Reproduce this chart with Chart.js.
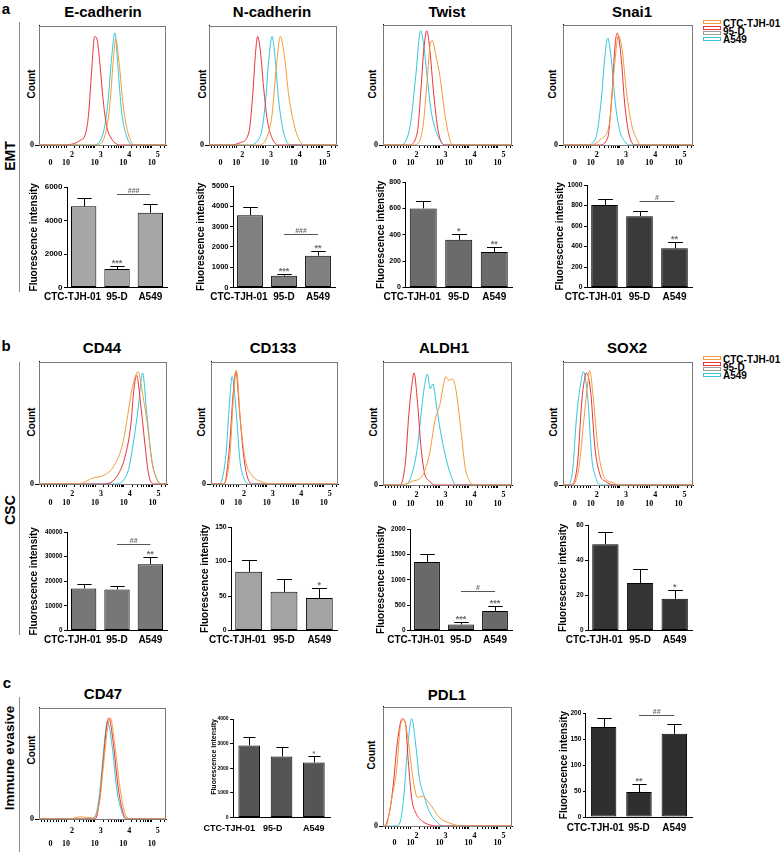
<!DOCTYPE html>
<html>
<head>
<meta charset="utf-8">
<script src="https://cdn.jsdelivr.net/npm/chart.js@4.4.0/dist/chart.umd.min.js"></script>
<style>
  body { margin: 0; background: #fff; font-family: "Liberation Sans", Arial, sans-serif; }
  #fig { position: relative; width: 784px; height: 852px; overflow: hidden; background: #fff; }
  canvas { position: absolute; }
  .t { position: absolute; transform: translate(-50%, -50%); font-weight: bold; white-space: nowrap; line-height: 1; color: #000; }
  .rot { transform: translate(-50%, -50%) rotate(-90deg); }
  .vl { position: absolute; left: 19px; width: 1px; background: #8c8c8c; }
  .leg { position: absolute; left: 703px; width: 80px; height: 24px; }
  .sw { position: absolute; left: 0; width: 16px; height: 2px; border: 1.5px solid; background: #fff; }
  .lt { position: absolute; left: 20px; top: 0; font-weight: bold; font-size: 10px; line-height: 8px; }
</style>
</head>
<body>
<div id="fig">
  <div class="t" style="left:6px;top:8px;font-size:15px">a</div>
  <div class="t" style="left:6px;top:345px;font-size:15px">b</div>
  <div class="t" style="left:7px;top:682px;font-size:15px">c</div>

  <div class="vl" style="top:22px;height:270px"></div>
  <div class="vl" style="top:362px;height:273px"></div>
  <div class="vl" style="top:697px;height:155px"></div>
  <div class="t rot" style="left:10px;top:156px;font-size:14px">EMT</div>
  <div class="t rot" style="left:10px;top:510px;font-size:14px">CSC</div>
  <div class="t rot" style="left:10px;top:758px;font-size:13.5px">Immune evasive</div>

  <div class="t" style="left:103px;top:11px;font-size:15px">E-cadherin</div>
  <div class="t" style="left:272px;top:11px;font-size:15px">N-cadherin</div>
  <div class="t" style="left:447px;top:11px;font-size:15px">Twist</div>
  <div class="t" style="left:632px;top:11px;font-size:15px">Snai1</div>
  <div class="t" style="left:102px;top:347px;font-size:15px">CD44</div>
  <div class="t" style="left:273px;top:347px;font-size:15px">CD133</div>
  <div class="t" style="left:444px;top:347px;font-size:15px">ALDH1</div>
  <div class="t" style="left:627px;top:347px;font-size:15px">SOX2</div>
  <div class="t" style="left:103px;top:693px;font-size:15px">CD47</div>
  <div class="t" style="left:447px;top:694px;font-size:15px">PDL1</div>

  <div class="t rot" style="left:32px;top:84px;font-size:10px">Count</div>
  <div class="t rot" style="left:203px;top:84px;font-size:10px">Count</div>
  <div class="t rot" style="left:373px;top:84px;font-size:10px">Count</div>
  <div class="t rot" style="left:553px;top:84px;font-size:10px">Count</div>
  <div class="t rot" style="left:32px;top:422px;font-size:10px">Count</div>
  <div class="t rot" style="left:202px;top:422px;font-size:10px">Count</div>
  <div class="t rot" style="left:374px;top:422px;font-size:10px">Count</div>
  <div class="t rot" style="left:554px;top:422px;font-size:10px">Count</div>
  <div class="t rot" style="left:32px;top:750px;font-size:10px">Count</div>
  <div class="t rot" style="left:372px;top:755px;font-size:10px">Count</div>

  <div class="leg" style="top:20px">
    <div class="sw" style="top:0;border-color:#f29b3b"></div>
    <div class="sw" style="top:5.5px;border-color:#e8323c"></div>
    <div class="sw" style="top:11px;border-color:#9a9a9a"></div>
    <div class="sw" style="top:16.5px;border-color:#33c5dd"></div>
    <div class="lt">CTC-TJH-01<br>95-D<br>A549</div>
  </div>
  <div class="leg" style="top:356px">
    <div class="sw" style="top:0;border-color:#f29b3b"></div>
    <div class="sw" style="top:5.5px;border-color:#e8323c"></div>
    <div class="sw" style="top:11px;border-color:#9a9a9a"></div>
    <div class="sw" style="top:16.5px;border-color:#33c5dd"></div>
    <div class="lt">CTC-TJH-01<br>95-D<br>A549</div>
  </div>
</div>

<script>
// ---- data ----
const groups = ['CTC-TJH-01', '95-D', 'A549'];
const seriesColors = ['#f29b3b', '#e8323c', '#33c5dd'];

// flow histograms: [log10 position, % of max count], order CTC-TJH-01, 95-D, A549
const ecadCTC = [[1.05,0],[3.06,0],[3.36,8],[3.53,33],[3.65,70],[3.74,89],[3.86,68],[4.0,33],[4.17,10],[4.4,0],[5.5,0]];
const ecad95D = [[1.05,0],[1.9,0],[2.25,1],[2.5,4],[2.66,8],[2.78,24],[2.9,64],[3.0,91],[3.09,88],[3.18,69],[3.3,37],[3.42,16],[3.6,5],[3.9,0],[5.5,0]];
const ecadA549 = [[1.05,0],[2.95,0],[3.3,10],[3.47,37],[3.59,72],[3.71,94],[3.82,64],[3.94,29],[4.11,8],[4.35,0],[5.5,0]];

const ncadCTC = [[1.05,0],[2.78,0],[3.07,7],[3.24,25],[3.39,65],[3.53,91],[3.67,75],[3.82,42],[4.0,18],[4.17,5],[4.37,0],[5.5,0]];
const ncad95D = [[1.05,0],[1.79,0],[2.14,2],[2.43,10],[2.58,45],[2.66,75],[2.74,91],[2.84,78],[2.95,48],[3.07,22],[3.24,6],[3.47,0],[5.5,0]];
const ncadA549 = [[1.05,0],[2.43,0],[2.84,8],[3.01,35],[3.13,72],[3.24,91],[3.36,70],[3.47,38],[3.65,10],[3.88,0],[5.5,0]];

const twistCTC = [[1.05,0],[2.12,0],[2.41,12],[2.56,50],[2.67,82],[2.75,87],[2.87,75],[3.02,56],[3.16,30],[3.3,10],[3.45,0],[5.5,0]];
const twist95D = [[1.05,0],[1.94,0],[2.23,10],[2.37,50],[2.46,80],[2.56,95],[2.67,78],[2.79,45],[2.93,15],[3.05,3],[3.22,0],[5.5,0]];
const twistA549 = [[1.05,0],[1.65,0],[1.83,3],[2.0,18],[2.17,55],[2.35,95],[2.46,82],[2.58,55],[2.7,30],[2.87,12],[3.05,3],[3.16,0],[5.5,0]];

const snaiCTC = [[1.05,0],[2.0,0],[2.35,5],[2.64,18],[2.79,60],[2.95,91],[3.07,80],[3.22,45],[3.39,18],[3.57,5],[3.72,0],[5.5,0]];
const snai95D = [[1.05,0],[2.29,0],[2.58,6],[2.72,40],[2.84,85],[2.91,93],[3.05,70],[3.16,35],[3.3,10],[3.51,0],[5.5,0]];
const snaiA549 = [[1.05,0],[1.88,0],[2.17,6],[2.35,35],[2.49,75],[2.58,89],[2.7,72],[2.84,35],[2.99,12],[3.16,3],[3.3,0],[5.5,0]];

const cd44CTC = [[1.05,0],[2.4,0],[2.94,5],[3.3,7],[3.66,15],[3.96,33],[4.14,57],[4.26,75],[4.4,88],[4.5,92],[4.62,78],[4.8,52],[4.98,18],[5.17,3],[5.3,0],[5.5,0]];
const cd4495D = [[1.05,0],[3.3,0],[3.78,7],[4.08,26],[4.26,52],[4.33,73],[4.44,89],[4.6,62],[4.74,31],[4.86,8],[5.04,0],[5.5,0]];
const cd44A549 = [[1.05,0],[3.66,0],[4.14,10],[4.31,31],[4.5,62],[4.65,91],[4.8,57],[4.98,18],[5.17,3],[5.29,0],[5.5,0]];

const cd133CTC = [[1.05,0],[1.45,0],[1.7,20],[1.84,72],[1.94,93],[2.08,52],[2.25,20],[2.49,7],[2.8,2],[3.17,0],[5.5,0]];
const cd13395D = [[1.05,0],[1.51,0],[1.7,31],[1.82,72],[1.92,92],[2.06,57],[2.18,26],[2.3,8],[2.49,0],[5.5,0]];
const cd133A549 = [[1.05,0],[1.33,0],[1.57,23],[1.7,67],[1.79,88],[1.94,57],[2.06,20],[2.18,6],[2.37,0],[5.5,0]];

const aldhCTC = [[1.05,0],[1.7,0],[2.06,3],[2.42,8],[2.66,26],[2.84,52],[3.03,67],[3.14,82],[3.22,88],[3.32,85],[3.44,86],[3.56,78],[3.74,44],[3.88,15],[4.04,3],[4.22,0],[5.5,0]];
const aldh95D = [[1.05,0],[1.64,0],[1.82,18],[1.94,57],[2.04,80],[2.12,91],[2.24,67],[2.36,31],[2.48,10],[2.66,3],[2.84,0],[5.5,0]];
const aldhA549 = [[1.05,0],[1.82,0],[2.06,10],[2.24,31],[2.36,57],[2.48,80],[2.58,90],[2.68,78],[2.77,82],[2.89,65],[3.03,44],[3.21,23],[3.39,8],[3.56,0],[5.5,0]];

const sox2CTC = [[1.05,0],[1.37,0],[1.6,15],[1.76,52],[1.91,85],[1.96,93],[2.09,70],[2.24,31],[2.45,7],[2.74,2],[2.99,0],[5.5,0]];
const sox295D = [[1.05,0],[1.31,0],[1.55,18],[1.69,67],[1.78,85],[1.85,91],[2.0,75],[2.14,31],[2.32,8],[2.5,3],[2.81,0],[5.5,0]];
const sox2A549 = [[1.05,0],[1.19,0],[1.37,10],[1.52,57],[1.64,80],[1.75,92],[1.91,67],[2.03,23],[2.17,6],[2.32,0],[5.5,0]];

const cd47CTC = [[1.05,0],[2.11,0],[2.51,2],[2.92,1],[3.17,15],[3.3,46],[3.45,81],[3.55,91],[3.71,66],[3.88,29],[4.05,6],[4.24,0],[5.5,0]];
const cd4795D = [[1.05,0],[3.02,0],[3.19,21],[3.3,52],[3.42,83],[3.5,91],[3.65,69],[3.82,29],[3.99,6],[4.14,0],[5.5,0]];
const cd47A549 = [[1.05,0],[2.96,0],[3.15,18],[3.26,46],[3.38,78],[3.45,88],[3.61,66],[3.78,26],[3.96,6],[4.09,0],[5.5,0]];

const pdl1CTC = [[1.05,0],[1.15,0],[1.35,23],[1.53,49],[1.65,84],[1.77,89],[1.94,68],[2.06,44],[2.24,24],[2.41,25],[2.59,21],[2.77,15],[3.0,7],[3.3,3],[3.53,1],[3.72,0],[5.5,0]];
const pdl195D = [[1.05,0],[1.1,0],[1.3,15],[1.41,36],[1.55,71],[1.71,90],[1.82,87],[1.92,55],[2.04,23],[2.18,11],[2.41,4],[2.65,1],[2.88,0],[5.5,0]];
const pdl1A549 = [[1.05,0],[1.5,0],[1.65,4],[1.77,25],[1.89,63],[2.04,90],[2.18,68],[2.3,41],[2.47,25],[2.65,12],[2.88,4],[3.12,0],[5.5,0]];

// fluorescence intensity bars: mean and SEM, order CTC-TJH-01, 95-D, A549
const ecadMean = [4850, 1100, 4460];   const ecadErr = [510, 200, 500];
const ncadMean = [3560, 580, 1570];    const ncadErr = [410, 80, 220];
const twistMean = [600, 362, 270];     const twistErr = [55, 45, 38];
const snaiMean = [804, 696, 382];      const snaiErr = [59, 49, 59];
const cd44Mean = [17100, 16700, 26900]; const cd44Err = [1600, 1400, 2900];
const cd133Mean = [85, 56, 47];        const cd133Err = [17, 18, 15];
const aldhMean = [1350, 120, 385];     const aldhErr = [155, 50, 90];
const sox2Mean = [49, 27, 18];         const sox2Err = [7, 8, 5];
const cd47Mean = [2930, 2480, 2240];   const cd47Err = [330, 400, 270];
const pdl1Mean = [173, 48, 160];       const pdl1Err = [17, 15, 18];

// significance marks vs CTC-TJH-01 and 95-D vs A549 bracket [from, to, value, label]
const ecadStars = ['', '***', ''];   const ecadBracket = [1, 2, 5560, '###'];
const ncadStars = ['', '***', '**']; const ncadBracket = [1, 2, 2620, '###'];
const twistStars = ['', '*', '**'];  const twistBracket = null;
const snaiStars = ['', '', '**'];    const snaiBracket = [1, 2, 843, '#'];
const cd44Stars = ['', '', '**'];    const cd44Bracket = [1, 2, 35000, '##'];
const cd133Stars = ['', '', '*'];    const cd133Bracket = null;
const aldhStars = ['', '***', '***']; const aldhBracket = [1, 2, 776, '#'];
const sox2Stars = ['', '', '*'];     const sox2Bracket = null;
const cd47Stars = ['', '', '*'];     const cd47Bracket = null;
const pdl1Stars = ['', '**', ''];    const pdl1Bracket = [1, 2, 196, '##'];

// logicle-style axis
const X_MIN = 1.05, X_MAX = 5.5;
const histMajor = [1.45, 2, 3, 4, 5];
const histMinor = [1.15, 1.25, 1.35, 1.55, 1.65, 1.75, 1.85, 1.93, 5.3, 5.45];
[2, 3, 4].forEach(d => { for (let k = 2; k <= 9; k++) histMinor.push(d + Math.log10(k)); });

Chart.defaults.font.family = '"Liberation Sans", Arial, sans-serif';

function addCanvas(x, y, w, h) {
  const c = document.createElement('canvas');
  c.width = Math.round(w);
  c.height = Math.round(h);
  c.style.left = Math.round(x) + 'px';
  c.style.top = Math.round(y) + 'px';
  document.getElementById('fig').appendChild(c);
  return c;
}

const boxPlugin = {
  id: 'box',
  beforeDatasetsDraw(chart) {
    const { ctx, chartArea: a } = chart;
    ctx.save();
    ctx.strokeStyle = '#7a7a7a';
    ctx.lineWidth = 1;
    ctx.strokeRect(Math.round(a.left) + 0.5, Math.round(a.top) + 0.5, Math.round(a.right - a.left) - 1, Math.round(a.bottom - a.top));
    ctx.restore();
  }
};

function histogram(box, curves, lab) {
  const [L, T, R, B] = box;
  const cv = addCanvas(L - 12, T - 2, R - L + 15, B - T + 30);
  const serif = { family: '"Liberation Serif", "Times New Roman", serif', weight: 'bold', size: 8 };
  new Chart(cv, {
    type: 'line',
    data: {
      datasets: curves.map((pts, i) => ({
        label: groups[i],
        data: pts.map(p => ({ x: p[0], y: p[1] })),
        borderColor: seriesColors[i],
        borderWidth: 1,
        pointRadius: 0,
        cubicInterpolationMode: 'monotone',
        fill: false
      }))
    },
    options: {
      responsive: false,
      animation: false,
      layout: { padding: { top: 2, right: 3, left: 0, bottom: 0 } },
      plugins: { legend: { display: false }, tooltip: { enabled: false } },
      scales: {
        x: {
          type: 'linear', min: X_MIN, max: X_MAX,
          afterFit: s => { s.height = 30; },
          afterBuildTicks: s => { s.ticks = histMajor.concat(histMinor).sort((a, b) => a - b).map(v => ({ value: v })); },
          grid: { drawOnChartArea: false, tickLength: 3, color: '#000' },
          border: { color: '#000' },
          ticks: {
            autoSkip: false, maxRotation: 0, padding: lab.pad, color: '#000',
            font: Object.assign({}, serif, { lineHeight: lab.lh / 8 }),
            callback: v => {
              if (v === 1.45) return ['', '0'];
              if (v === 2 || v === 3 || v === 4 || v === 5) return ['      ' + v, '10'];
              return '';
            }
          }
        },
        y: {
          min: 0, max: 100,
          afterFit: s => { s.width = 12; },
          afterBuildTicks: s => { s.ticks = [{ value: 0 }]; },
          grid: { drawOnChartArea: false, tickLength: 4, color: '#000' },
          border: { color: '#000' },
          ticks: { padding: 1, color: '#000', font: serif }
        }
      }
    },
    plugins: [boxPlugin]
  });
}

function errorMarks(c) {
  return {
    id: 'errorMarks',
    afterDatasetsDraw(chart) {
      const ctx = chart.ctx, y = chart.scales.y;
      const bars = chart.getDatasetMeta(0).data;
      ctx.save();
      ctx.lineWidth = 1;
      ctx.textAlign = 'center';
      ctx.textBaseline = 'alphabetic';
      bars.forEach((bar, i) => {
        const top = Math.round(y.getPixelForValue(c.mean[i] + c.err[i])) + 0.5;
        const half = bar.width * 0.28;
        const x = Math.round(bar.x) + 0.5;
        ctx.strokeStyle = '#000';
        ctx.beginPath();
        ctx.moveTo(x, bar.y);
        ctx.lineTo(x, top);
        ctx.moveTo(x - half, top);
        ctx.lineTo(x + half, top);
        ctx.stroke();
        if (c.stars[i]) {
          ctx.fillStyle = '#6e6e6e';
          ctx.font = 'bold ' + c.starFs + 'px "Liberation Sans"';
          ctx.fillText(c.stars[i], bar.x, top - 1);
        }
      });
      if (c.bracket) {
        const [a, b, v, txt] = c.bracket;
        const yy = Math.round(y.getPixelForValue(v)) + 0.5;
        ctx.strokeStyle = '#555';
        ctx.beginPath();
        ctx.moveTo(bars[a].x, yy);
        ctx.lineTo(bars[b].x, yy);
        ctx.stroke();
        ctx.fillStyle = '#6e6e6e';
        ctx.font = 'bold ' + c.hashFs + 'px "Liberation Sans"';
        ctx.fillText(txt, (bars[a].x + bars[b].x) / 2, yy - 2);
      }
      ctx.restore();
    }
  };
}

function barChart(c) {
  const left = c.titleX - 0.6 * c.titleFs;
  const padTop = 14;
  const xH = c.labelOff + c.catFs * 0.6 + 3;
  const cv = addCanvas(left, c.top - padTop, c.right + 4 - left, c.zero - c.top + padTop + xH);
  const trail = ' '.repeat(Math.round(2 * c.shift / (0.278 * c.catFs)));
  new Chart(cv, {
    type: 'bar',
    data: {
      labels: groups,
      datasets: [{
        data: c.mean,
        backgroundColor: c.color,
        borderColor: '#000',
        borderWidth: 1,
        borderSkipped: false,
        barPercentage: c.barPct,
        categoryPercentage: 1
      }]
    },
    options: {
      responsive: false,
      animation: false,
      layout: { padding: { top: padTop, right: 4, left: 0, bottom: 0 } },
      plugins: { legend: { display: false }, tooltip: { enabled: false } },
      scales: {
        x: {
          afterFit: s => { s.height = xH; },
          grid: { display: false, drawTicks: false },
          border: { color: '#000' },
          ticks: {
            autoSkip: false, maxRotation: 0, minRotation: 0,
            padding: c.labelOff - 0.6 * c.catFs,
            color: '#000',
            font: { size: c.catFs, weight: 'bold' },
            callback: (v, i) => i === 0 ? groups[i] + trail : (i === 1 ? groups[i] + c.trail2 : groups[i])
          }
        },
        y: {
          min: 0, max: c.max,
          afterFit: s => { s.width = c.axisX - left; },
          ticks: { stepSize: c.step, padding: 1.5, color: '#000', font: { size: c.tickFs, weight: 'bold' }, callback: v => String(v) },
          grid: { drawOnChartArea: false, tickLength: 3, color: '#000' },
          border: { color: '#000' },
          title: { display: true, text: 'Fluorescence intensity', align: c.titleAlign, color: '#000', padding: 0, font: { size: c.titleFs, weight: 'bold' } }
        }
      }
    },
    plugins: [errorMarks(c)]
  });
}

// ---- histograms: box [left, top, right, bottom] ----
const labA = { pad: 3, lh: 8 };
histogram([39, 22, 166, 147], [ecadCTC, ecad95D, ecadA549], labA);
histogram([209, 22, 337, 147], [ncadCTC, ncad95D, ncadA549], labA);
histogram([383, 21, 512, 147], [twistCTC, twist95D, twistA549], labA);
histogram([563, 21, 693, 147], [snaiCTC, snai95D, snaiA549], labA);
const labB = { pad: 3, lh: 8.5 };
histogram([39, 358, 167, 486], [cd44CTC, cd4495D, cd44A549], labB);
histogram([211, 358, 338, 486], [cd133CTC, cd13395D, cd133A549], labB);
histogram([383, 358, 512, 487], [aldhCTC, aldh95D, aldhA549], labB);
histogram([563, 358, 693, 487], [sox2CTC, sox295D, sox2A549], labB);
histogram([39, 704, 166, 821], [cd47CTC, cd4795D, cd47A549], { pad: 2.5, lh: 13 });
histogram([383, 703, 512, 828], [pdl1CTC, pdl195D, pdl1A549], { pad: 3, lh: 7 });

// ---- bar charts ----
const big = { titleFs: 10, catFs: 10, starFs: 9, hashFs: 7, barPct: 0.76, shift: 11, trail2: '', titleAlign: 'center' };
barChart(Object.assign({}, big, { axisX: 67, right: 167, top: 187, zero: 287, titleX: 34, tickFs: 8, max: 6000, step: 2000, color: '#a6a6a6', labelOff: 9.5, mean: ecadMean, err: ecadErr, stars: ecadStars, bracket: ecadBracket }));
barChart(Object.assign({}, big, { axisX: 233, right: 335, top: 186, zero: 287, titleX: 201, tickFs: 7.5, max: 5000, step: 1000, color: '#808080', labelOff: 9.5, mean: ncadMean, err: ncadErr, stars: ncadStars, bracket: ncadBracket }));
barChart(Object.assign({}, big, { axisX: 405, right: 512, top: 182, zero: 287, titleX: 381, tickFs: 7, max: 800, step: 200, color: '#6b6b6b', labelOff: 9.5, mean: twistMean, err: twistErr, stars: twistStars, bracket: twistBracket }));
barChart(Object.assign({}, big, { axisX: 587, right: 692, top: 185, zero: 287, titleX: 560, tickFs: 6.8, max: 1000, step: 200, color: '#3a3a3a', labelOff: 9.5, mean: snaiMean, err: snaiErr, stars: snaiStars, bracket: snaiBracket }));
barChart(Object.assign({}, big, { axisX: 67, right: 167, top: 532, zero: 630, titleX: 34, tickFs: 6.3, max: 40000, step: 10000, color: '#777777', labelOff: 9.5, mean: cd44Mean, err: cd44Err, stars: cd44Stars, bracket: cd44Bracket }));
barChart(Object.assign({}, big, { axisX: 231, right: 337, top: 527, zero: 630, titleX: 205, tickFs: 6.8, max: 150, step: 50, color: '#a3a3a3', labelOff: 9.5, mean: cd133Mean, err: cd133Err, stars: cd133Stars, bracket: cd133Bracket }));
barChart(Object.assign({}, big, { axisX: 410, right: 512, top: 529, zero: 630, titleX: 381, tickFs: 6.5, max: 2000, step: 500, color: '#696969', labelOff: 9.5, mean: aldhMean, err: aldhErr, stars: aldhStars, bracket: aldhBracket }));
barChart(Object.assign({}, big, { axisX: 588, right: 692, top: 525, zero: 630, titleX: 563, tickFs: 6.5, max: 60, step: 20, color: '#353535', labelOff: 9.5, mean: sox2Mean, err: sox2Err, stars: sox2Stars, bracket: sox2Bracket }));
barChart(Object.assign({}, big, { axisX: 217, right: 330, top: 719, zero: 818, titleX: 198, titleFs: 7, titleAlign: 'end', tickFs: 5, catFs: 9, starFs: 8, barPct: 0.67, shift: 20, trail2: '       ', max: 4000, step: 1000, color: '#555555', labelOff: 11, mean: cd47Mean, err: cd47Err, stars: cd47Stars, bracket: cd47Bracket }));
barChart(Object.assign({}, big, { axisX: 585, right: 692, top: 713, zero: 817, titleX: 563, tickFs: 6.6, catFs: 10, barPct: 0.72, shift: 9, max: 200, step: 50, color: '#2f2f2f', labelOff: 11, mean: pdl1Mean, err: pdl1Err, stars: pdl1Stars, bracket: pdl1Bracket }));
</script>
</body>
</html>
